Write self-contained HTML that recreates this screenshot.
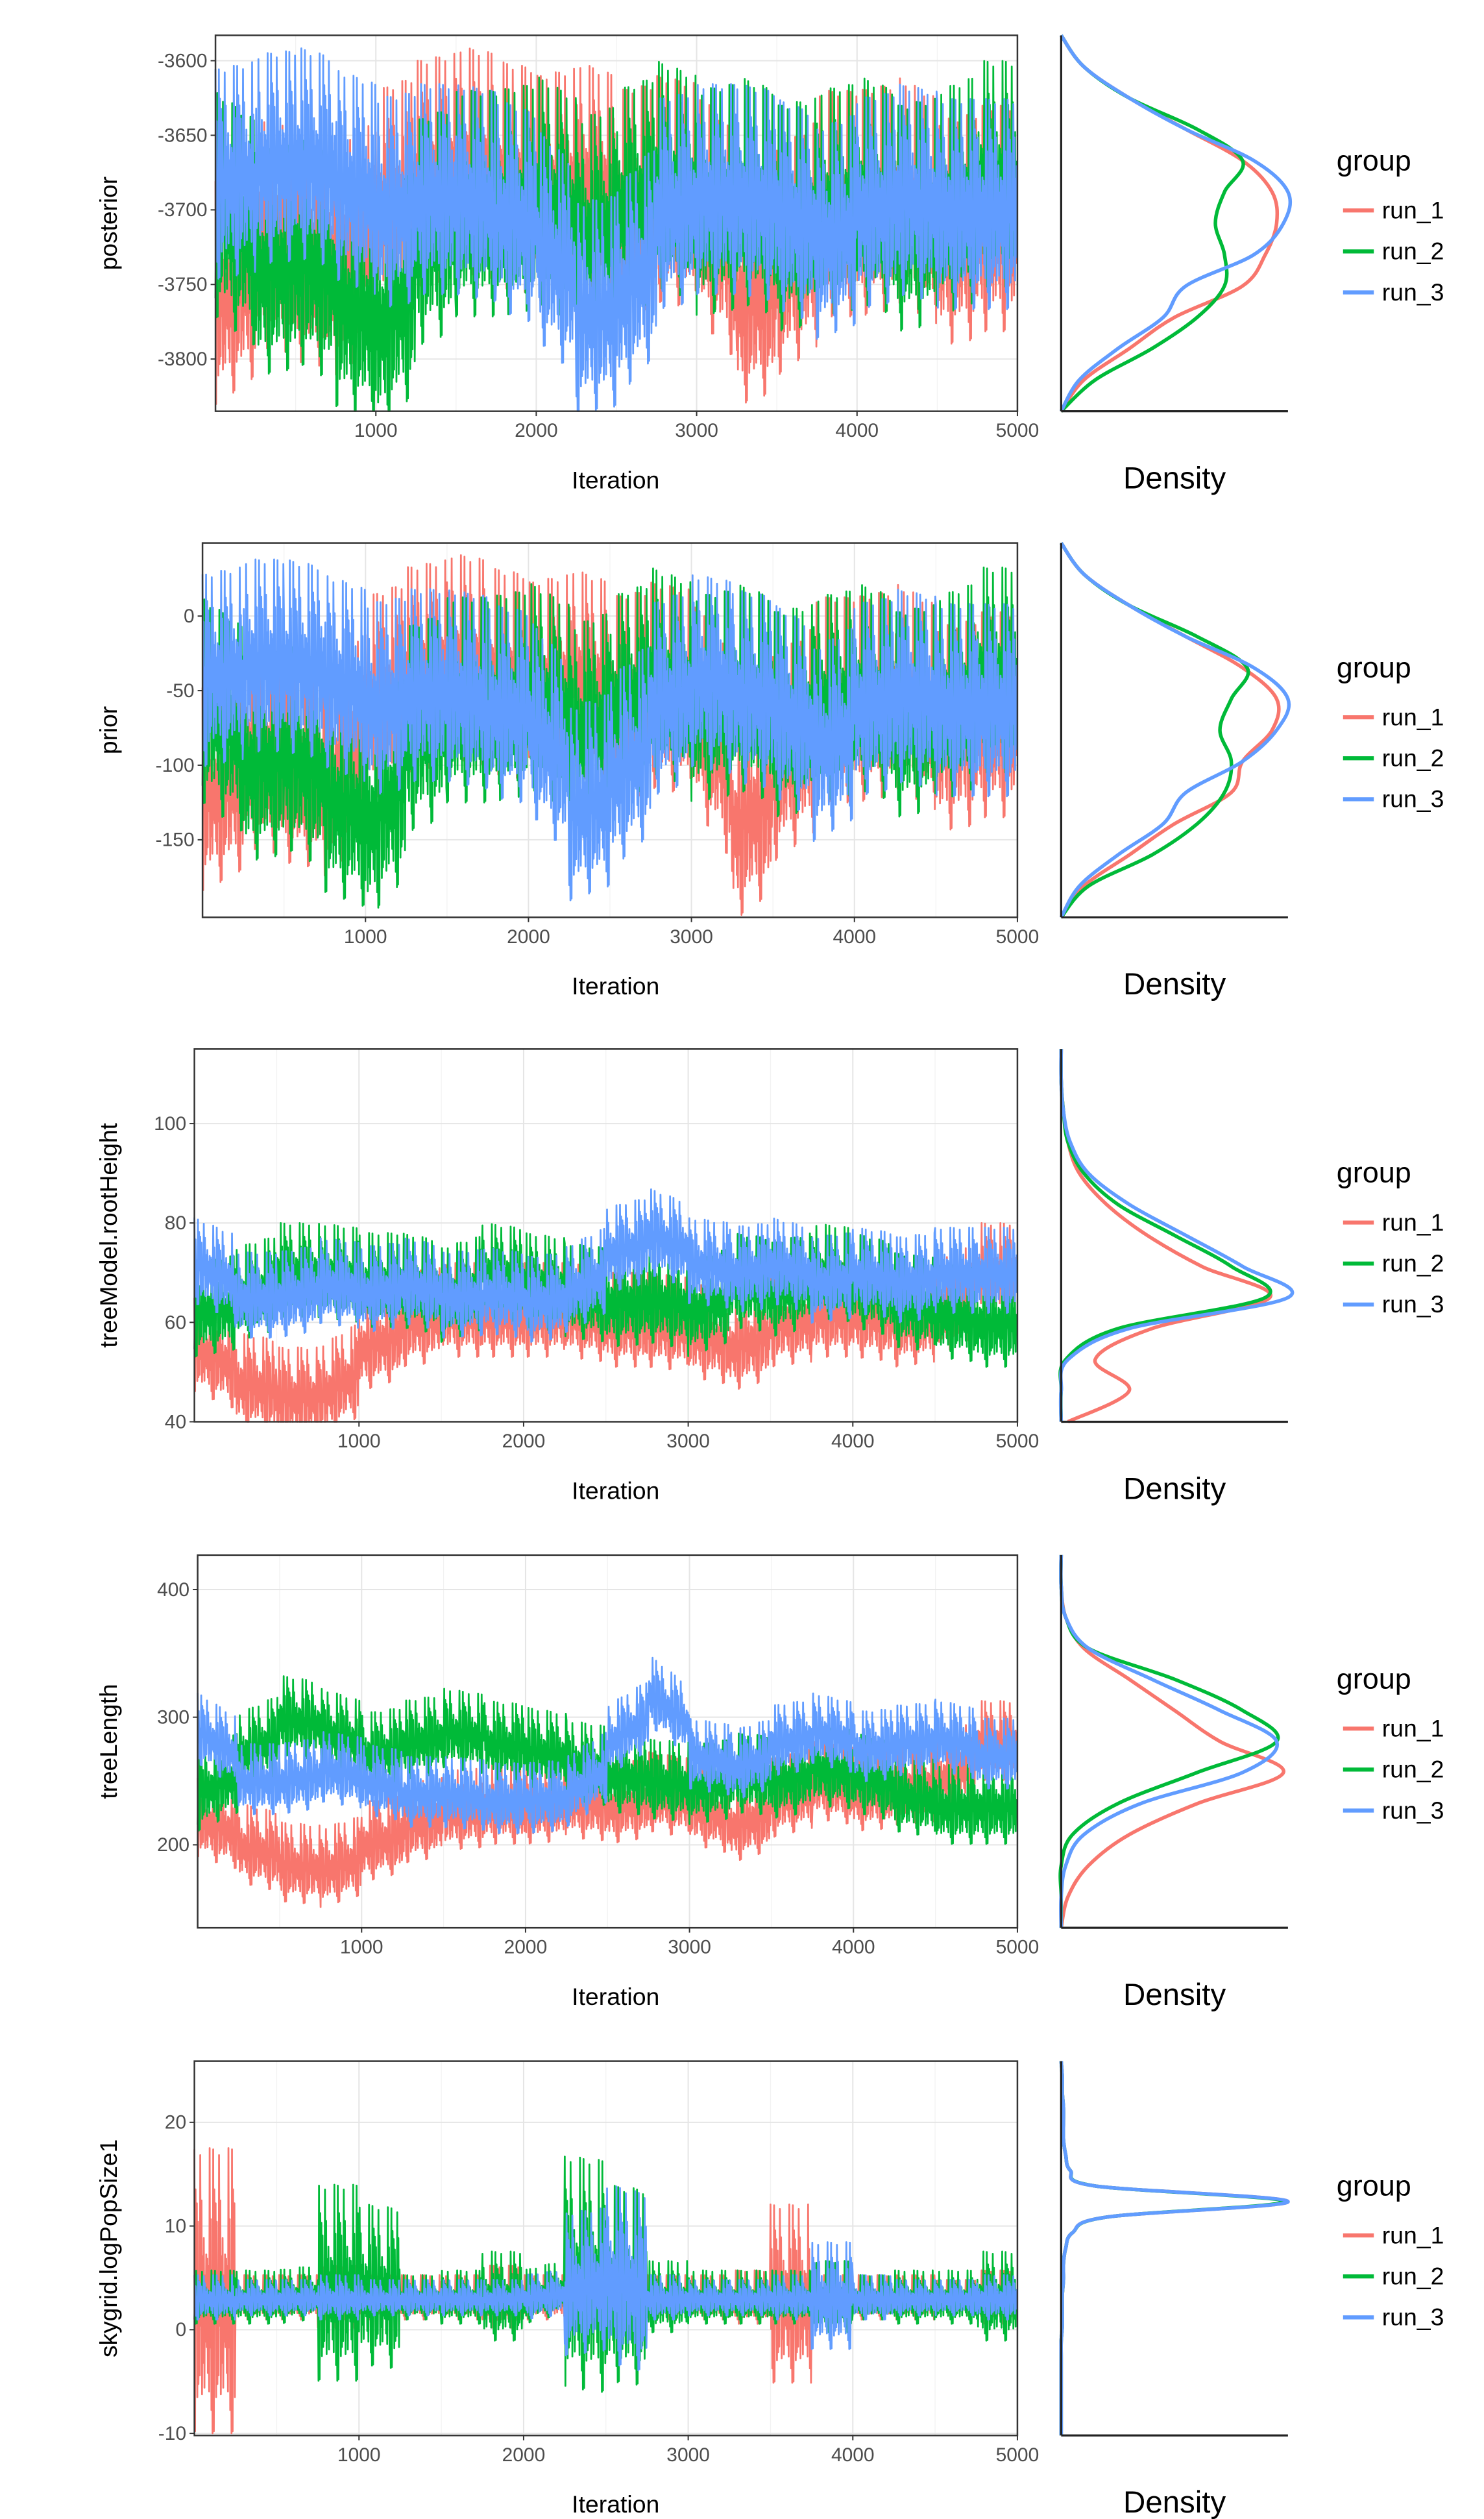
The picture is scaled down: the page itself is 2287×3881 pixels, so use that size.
<!DOCTYPE html>
<html><head><meta charset="utf-8"><style>
html,body{margin:0;padding:0;background:#fff;}
svg{display:block;font-family:"Liberation Sans",sans-serif;}
</style></head><body>
<svg id="chart" width="2287" height="3881" viewBox="0 0 916 1568" preserveAspectRatio="none" xmlns="http://www.w3.org/2000/svg"></svg>
<script>
// ---- data ----
const panelNames = ["posterior","prior","treeModel.rootHeight","treeLength","skygrid.logPopSize1"];
const runNames = ["run_1","run_2","run_3"];
const yTicks = [[-3600,-3650,-3700,-3750,-3800],[0,-50,-100,-150],[100,80,60,40],[400,300,200],[20,10,0,-10]];
const xTicks = [1000,2000,3000,4000,5000];
// per-bin (250 iterations) level of each run
const p1Run1 = [-3760,-3720,-3730,-3740,-3700,-3680,-3670,-3680,-3690,-3680,-3700,-3690,-3700,-3760,-3740,-3700,-3700,-3690,-3720,-3710];
const p1Run2 = [-3700,-3740,-3730,-3760,-3780,-3720,-3700,-3700,-3690,-3720,-3700,-3680,-3700,-3690,-3710,-3700,-3690,-3710,-3700,-3680];
const p1Run3 = [-3680,-3670,-3665,-3680,-3700,-3690,-3690,-3700,-3720,-3770,-3760,-3700,-3690,-3690,-3700,-3720,-3700,-3690,-3700,-3700];
const p2Run1 = [-120,-90,-100,-110,-60,-40,-30,-40,-50,-40,-60,-50,-60,-140,-100,-60,-60,-50,-80,-70];
const p2Run2 = [-60,-100,-90,-120,-140,-80,-60,-60,-50,-80,-60,-40,-60,-50,-70,-60,-50,-70,-60,-40];
const p2Run3 = [-40,-30,-30,-40,-60,-50,-50,-60,-70,-130,-110,-60,-40,-50,-60,-90,-60,-50,-60,-60];
const p3Run1 = [55,48,45,45,55,60,62,62,62,62,60,60,58,55,60,62,62,60,62,70];
const p3Run2 = [62,65,70,70,68,68,65,70,68,66,64,65,62,68,66,70,68,64,62,60];
const p3Run3 = [72,65,65,68,66,68,65,66,64,66,74,78,72,70,72,68,70,68,70,70];
const p4Run1 = [220,200,185,180,200,215,225,230,230,235,230,240,230,215,235,250,240,245,250,280];
const p4Run2 = [240,270,300,290,270,280,290,280,275,265,255,250,245,255,250,260,255,240,230,230];
const p4Run3 = [290,250,250,260,250,240,240,235,235,240,280,320,270,260,280,290,275,280,285,270];
const p5Run1 = [3,3,3,3,3,3,3,3,3,3,3,3,3,3,3,3,3,3,3,3];
const p5Run2 = [3,3,3,4,4,3,3,3,3,5,4,3,3,3,3,3,3,3,3,3];
const p5Run3 = [3,3,3,3,3,3,3,3,3,4,5,3,3,3,3,3,3,3,3,3];
const p1Spread = [88,88,82];
const p2Spread = [80,80,75];
const p3Spread = [11,11,10];
const p4Spread = [36,36,32];
const p5Run1Spread = [16,2.5,2.5,3.5,2.5,2.5,2.5,3.5,2.5,2.5,2,2.5,2.5,3,10,2.5,2.5,2.5,2,3];
const p5Run2Spread = [3,3,3,11,9,2.5,3,5,3,13,11,4,3,3,3,4,2.5,3,3,5];
const p5Run3Spread = [2.5,2,2,2.5,2,2,2,2,2.5,8,10,2.5,2,2,2.5,6,2.5,2,2,2.5];
// density (fraction of max width), sampled top->bottom evenly
const d1Run1 = [0,.1,.3,.55,.8,.93,.95,.9,.8,.5,.3,.1,0];
const d1Run2 = [0,.1,.3,.6,.8,.72,.68,.72,.72,.6,.4,.15,0];
const d1Run3 = [0,.1,.3,.55,.85,1,.98,.85,.55,.45,.25,.08,0];
const d2Run1 = [0,.1,.3,.55,.8,.95,.93,.8,.75,.5,.3,.1,0];
const d2Run2 = [0,.1,.3,.6,.82,.75,.7,.75,.72,.6,.4,.12,0];
const d2Run3 = [0,.1,.3,.55,.85,1,.95,.8,.55,.45,.25,.08,0];
const d3Run1 = [0,0,.01,.03,.08,.2,.38,.62,.92,.4,.15,.3,.03];
const d3Run2 = [0,0,.01,.03,.1,.25,.5,.75,.9,.25,.02,0,0];
const d3Run3 = [0,0,.01,.04,.12,.3,.55,.8,1,.3,.03,0,0];
const d4Run1 = [0,0,.02,.1,.3,.5,.7,.98,.6,.3,.12,.03,0];
const d4Run2 = [0,0,.02,.12,.5,.8,.95,.6,.25,.05,0,0,0];
const d4Run3 = [0,0,.02,.12,.4,.7,.95,.8,.35,.1,.02,0,0];
const d5Run1 = [0,.005,.005,.01,.01,.01,.02,.04,.15,1,.2,.05,.02,.01,.01,.005,.005,.005,0,0,0,0,0,0,0];
const d5Run2 = [0,.005,.005,.01,.01,.01,.02,.04,.15,.98,.2,.05,.02,.01,.01,.005,.005,.005,0,0,0,0,0,0,0];
const d5Run3 = [0,.005,.005,.01,.01,.01,.02,.04,.15,1,.2,.05,.02,.01,.01,.005,.005,.005,0,0,0,0,0,0,0];

const levels = [[p1Run1,p1Run2,p1Run3],[p2Run1,p2Run2,p2Run3],[p3Run1,p3Run2,p3Run3],[p4Run1,p4Run2,p4Run3],[p5Run1,p5Run2,p5Run3]];
const densities = [[d1Run1,d1Run2,d1Run3],[d2Run1,d2Run2,d2Run3],[d3Run1,d3Run2,d3Run3],[d4Run1,d4Run2,d4Run3],[d5Run1,d5Run2,d5Run3]];
// ---- layout ----
const colors = ["#F8766D","#00BA38","#619CFF"];
const layout = [
 {x0:133,y0:22,y1:256,yTop:-3583,yBot:-3835},
 {x0:125,y0:338,y1:571,yTop:49,yBot:-202},
 {x0:120,y0:653,y1:885,yTop:115,yBot:40},
 {x0:122,y0:968,y1:1200,yTop:427,yBot:135},
 {x0:120,y0:1283,y1:1516,yTop:25.9,yBot:-10.2}
];
const x1 = 628, dx0 = 655, dx1 = 795;
const jitter = [0.9,-0.7,0.4,-1,0.6,-0.3,1,-0.8,0.2,-0.5,0.75,-0.95,0.3,-0.2,0.85,-0.6,0.5,-0.9,0.1,-0.4,0.65,-0.15,0.95,-0.55,0.05,-0.85,0.35,-0.65,0.7,-0.35,0.15,-0.75];
const svg = document.getElementById('chart');
const NS = "http://www.w3.org/2000/svg";
function mk(tag, attrs, parent){const e=document.createElementNS(NS,tag);for(const k in attrs)e.setAttribute(k,attrs[k]);(parent||svg).appendChild(e);return e;}
function spline(pts){let d="M"+pts[0][0].toFixed(1)+","+pts[0][1].toFixed(1);
 for(let i=0;i<pts.length-1;i++){const p0=pts[Math.max(0,i-1)],p1=pts[i],p2=pts[i+1],p3=pts[Math.min(pts.length-1,i+2)];
  const c1=[p1[0]+(p2[0]-p0[0])/6,p1[1]+(p2[1]-p0[1])/6],c2=[p2[0]-(p3[0]-p1[0])/6,p2[1]-(p3[1]-p1[1])/6];
  d+=" C"+c1[0].toFixed(1)+","+c1[1].toFixed(1)+" "+c2[0].toFixed(1)+","+c2[1].toFixed(1)+" "+p2[0].toFixed(1)+","+p2[1].toFixed(1);}
 return d;}

layout.forEach((L,p)=>{
 const g=mk('g',{});
 
 
 const xScale=v=>L.x0+(v)*(x1-L.x0)/5000;
 const yScale=v=>L.y0+(L.yTop-v)/(L.yTop-L.yBot)*(L.y1-L.y0);
 for(let v=500;v<5000;v+=500){const l=mk('line',{x1:xScale(v),x2:xScale(v),y1:L.y0,y2:L.y1,stroke:v%1000?"#f2f2f2":"#e5e5e5","stroke-width":v%1000?0.5:0.8},g);
  }
 yTicks[p].forEach(t=>{const l=mk('line',{x1:L.x0,x2:x1,y1:yScale(t),y2:yScale(t),stroke:"#e5e5e5","stroke-width":0.8},g);
  });
 const lv=levels[p];
 lv.forEach((arr,r)=>{
  const pts=[];const nb=arr.length;const per=70;
  for(let b=0;b<nb;b++){
   const sp = p===0?p1Spread[r]:p===1?p2Spread[r]:p===2?p3Spread[r]:p===3?p4Spread[r]:[p5Run1Spread,p5Run2Spread,p5Run3Spread][r][b];
   for(let k=0;k<per;k++){
    const it=(b+k/per)*5000/nb;
    const next = b<nb-1?arr[b+1]:arr[b];
    const m=arr[b]+(next-arr[b])*(k/per)*0.5;
    const n=k*7+b*13+r*11;
    const j=jitter[n%jitter.length]*(0.55+0.45*Math.abs(jitter[(n*5+3)%jitter.length]));
    let v=m+sp*j;
    v=Math.max(L.yBot,Math.min(L.yTop,v));
    pts.push([xScale(it),yScale(v)]);
   }}
  const path=mk('path',{d:"M"+pts.map(q=>q[0].toFixed(1)+","+q[1].toFixed(1)).join("L"),fill:"none",stroke:colors[r],"stroke-width":1.1,"stroke-linejoin":"round"},g);
  
  
 });
 const border=mk('rect',{x:L.x0,y:L.y0,width:x1-L.x0,height:L.y1-L.y0,fill:"none",stroke:"#333","stroke-width":1},g);
 
 yTicks[p].forEach(t=>{
  mk('line',{x1:L.x0-3,x2:L.x0,y1:yScale(t),y2:yScale(t),stroke:"#333","stroke-width":0.8},g);
  const tx=mk('text',{x:L.x0-5,y:yScale(t)+4,"text-anchor":"end","font-size":12,fill:"#4d4d4d"},g);
  tx.textContent=t;});
 xTicks.forEach(t=>{
  mk('line',{x1:xScale(t),x2:xScale(t),y1:L.y1,y2:L.y1+3,stroke:"#333","stroke-width":0.8},g);
  const tx=mk('text',{x:xScale(t),y:L.y1+16,"text-anchor":"middle","font-size":12,fill:"#4d4d4d"},g);
  tx.textContent=t;});
 const xl=mk('text',{x:380,y:L.y1+48,"text-anchor":"middle","font-size":15,fill:"#000"},g);
 xl.textContent="Iteration";
 const yc=(L.y0+L.y1)/2;
 const yl=mk('text',{x:0,y:0,transform:"translate(72,"+yc+") rotate(-90)","text-anchor":"middle","font-size":15,fill:"#000"},g);
 yl.textContent=panelNames[p];
 densities[p].forEach((arr,r)=>{
  const n=arr.length;const pts=arr.map((v,i)=>[dx0+v*(dx1-dx0),L.y0+i/(n-1)*(L.y1-L.y0)]);
  const path=mk('path',{d:spline(pts),fill:"none",stroke:colors[r],"stroke-width":2.2},g);
  });
 mk('line',{x1:dx0,x2:dx0,y1:L.y0,y2:L.y1,stroke:"#222","stroke-width":1.3},g);
 mk('line',{x1:dx0,x2:dx1,y1:L.y1,y2:L.y1,stroke:"#222","stroke-width":1.3},g);
 const dl=mk('text',{x:725,y:L.y1+48,"text-anchor":"middle","font-size":19,fill:"#000"},g);
 dl.textContent="Density";
 const ly=yc-17;
 const lg=mk('text',{x:825,y:ly-16,"font-size":18,fill:"#000"},g);
 lg.textContent="group";
 runNames.forEach((nm,r)=>{
  const y=ly+9+r*25.5;
  const ln=mk('line',{x1:829,x2:848,y1:y,y2:y,stroke:colors[r],"stroke-width":2.5},g);
  
  const t=mk('text',{x:853,y:y+5,"font-size":15,fill:"#000"},g);
  t.textContent=nm;});
});
</script>
</body></html>
